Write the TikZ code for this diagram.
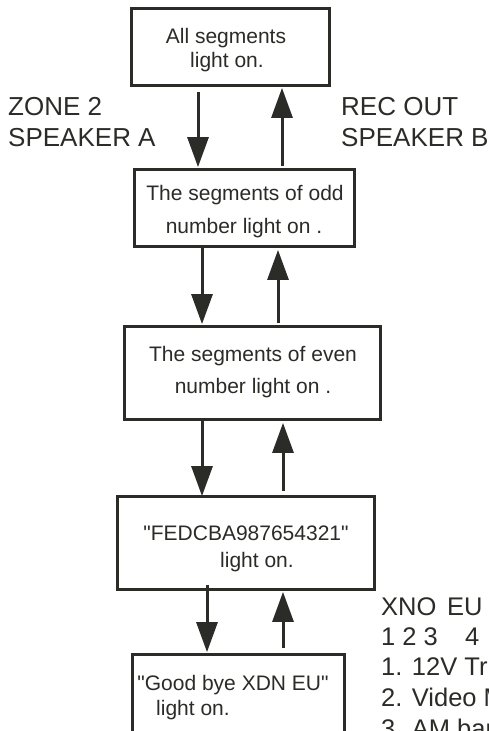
\documentclass[tikz,border=0pt]{standalone}
\usepackage{fontspec}
\setmainfont{Liberation Sans}[Ligatures=TeXOff]
\usetikzlibrary{arrows.meta}
\definecolor{ink}{HTML}{2B2B27}
\tikzset{
  box/.style={draw=ink, line width=2.8pt, fill=white, inner sep=0pt},
  btxt/.style={anchor=base, inner sep=0pt, text=ink, font=\fontsize{21}{24}\selectfont},
  lbl/.style={anchor=base west, inner sep=0pt, text=ink, font=\fontsize{26}{30}\selectfont},
  rtxt/.style={anchor=base west, inner sep=0pt, text=ink, font=\fontsize{25.5}{30}\selectfont},
  arr/.style={draw=ink, line width=3pt, -{Triangle[length=30pt,width=21pt]}}
}
\begin{document}
\begin{tikzpicture}[x=1pt,y=-1pt]
\useasboundingbox (0,0) rectangle (488,731);
\clip (0,0) rectangle (488,731);
% boxes
\node[box, minimum width=198pt, minimum height=77pt] (b1) at (230.5,47) {};
\node[box, minimum width=220pt, minimum height=77pt] (b2) at (244.5,208) {};
\node[box, minimum width=256pt, minimum height=93pt] (b3) at (252.5,373) {};
\node[box, minimum width=257pt, minimum height=93pt] (b4) at (246,543) {};
\node[box, minimum width=212pt, minimum height=93pt] (b5) at (238.5,701) {};
% box texts
\node[btxt] (t1a) at (226,43) {All segments};
\node[btxt] (t1b) at (227,67) {light on.};
\node[btxt] (t2a) at (245,200) {The segments of odd};
\node[btxt] (t2b) at (244,233) {number light on .};
\node[btxt] (t3a) at (253,361) {The segments of even};
\node[btxt] (t3b) at (253,393) {number light on .};
\node[btxt] (t4a) at (246,540) {"FEDCBA987654321"};
\node[btxt] (t4b) at (257,567) {light on.};
\node[btxt] (t5a) at (233,690) {"Good bye XDN EU"};
\node[btxt, anchor=base west] (t5b) at (156,715) {light on.};
% side labels
\node[lbl] (z1) at (8,115) {ZONE 2};
\node[lbl] (z2) at (8,146) {SPEAKER A};
\node[lbl] (r1) at (341,115) {REC OUT};
\node[lbl] (r2) at (341,146) {SPEAKER B};
% right text
\node[rtxt] (x1) at (381,615) {XNO};
\node[rtxt] (x2) at (447,615) {EU};
\node[rtxt] (n1) at (381,645) {1 2 3};
\node[rtxt] (n2) at (465,645) {4};
\node[rtxt] (l1) at (381,675) {1. 12V Trigger};
\node[rtxt] (l2) at (381,706) {2. Video Mode};
\node[rtxt] (l3) at (381,737) {3. AM band};
% arrows
\draw[arr] ([xshift=-32.5pt,yshift=-5pt]b1.south) -- ([xshift=-46.5pt,yshift=1pt]b2.north);
\draw[arr] ([xshift=37.5pt,yshift=2pt]b2.north) -- ([xshift=51.5pt,yshift=-1pt]b1.south);
\draw[arr] (b2.south -| 202,0) -- ([yshift=1pt]b3.north -| 202,0);
\draw[arr] ([yshift=2pt]b3.north -| 278,0) -- ([yshift=-2pt]b2.south -| 278,0);
\draw[arr] (b3.south -| 202,0) -- ([yshift=-1pt]b4.north -| 202,0);
\draw[arr] ([yshift=4pt]b4.north -| 283,0) -- ([yshift=-2pt]b3.south -| 283,0);
\draw[arr] ([yshift=6pt]b4.south -| 207,0) -- ([yshift=1pt]b5.north -| 207,0);
\draw[arr] ([yshift=5pt]b5.north -| 283,0) -- ([yshift=-1pt]b4.south -| 283,0);
\end{tikzpicture}
\end{document}
